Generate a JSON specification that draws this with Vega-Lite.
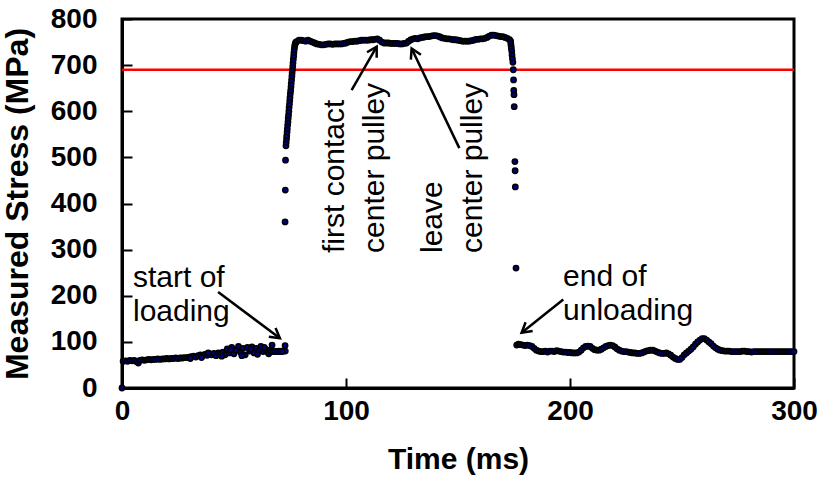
{
  "$schema": "https://vega.github.io/schema/vega-lite/v6.json",
  "width": 672,
  "height": 369,
  "autosize": {"type": "none"},
  "padding": {"left": 122, "top": 19, "right": 27, "bottom": 92},
  "background": "white",
  "config": {
    "view": {"stroke": "black", "strokeWidth": 3},
    "font": "Liberation Sans",
    "axis": {
      "grid": false,
      "labelFont": "Liberation Sans",
      "labelFontWeight": "bold",
      "labelFontSize": 28,
      "labelColor": "black",
      "labelFlush": false,
      "labelOverlap": false,
      "tickSize": -10,
      "tickWidth": 2,
      "tickColor": "black",
      "domainColor": "black",
      "domainWidth": 3,
      "titleFont": "Liberation Sans",
      "titleFontWeight": "bold",
      "titleColor": "black"
    }
  },
  "encoding": {
    "x": {
      "field": "t",
      "type": "quantitative",
      "scale": {"domain": [0, 300], "nice": false, "zero": false},
      "axis": {"values": [0, 100, 200, 300], "title": "Time (ms)", "labelPadding": 19, "titleFontSize": 30, "titlePadding": 19}
    },
    "y": {
      "field": "s",
      "type": "quantitative",
      "scale": {"domain": [0, 800], "nice": false, "zero": false},
      "axis": {"values": [0, 100, 200, 300, 400, 500, 600, 700, 800], "title": "Measured Stress (MPa)", "labelPadding": 35, "titleFontSize": 32, "titlePadding": 16}
    }
  },
  "layer": [
    {
      "data": {"values": [{"t": 0, "t2": 300, "s": 690}]},
      "mark": {"type": "rule", "color": "#ff0000", "strokeWidth": 2.5},
      "encoding": {"x2": {"field": "t2"}}
    },
    {
      "data": {"values": [
        {"t":0,"s":0},{"t":0.5,"s":58},{"t":1.5,"s":59},{"t":2.5,"s":58},{"t":3.5,"s":60},{"t":4.5,"s":59},{"t":5.5,"s":60},{"t":6.5,"s":57},{"t":7.3,"s":54},{"t":8,"s":60},{"t":9,"s":61},{"t":10,"s":60},{"t":11,"s":61},{"t":12,"s":62},{"t":13,"s":61},{"t":14,"s":62},{"t":15,"s":62},{"t":16,"s":63},{"t":17,"s":62},{"t":18,"s":63},{"t":19,"s":63},{"t":20,"s":64},{"t":21,"s":63},{"t":22,"s":64},{"t":23,"s":64},{"t":24,"s":65},{"t":25,"s":64},{"t":26,"s":65},{"t":27,"s":65},{"t":28,"s":66},{"t":29,"s":66},{"t":30,"s":67},{"t":31,"s":68},{"t":32,"s":69},{"t":33,"s":67},{"t":34,"s":70},{"t":35,"s":72},{"t":36,"s":70},{"t":37,"s":73},{"t":38,"s":71},{"t":39,"s":74},{"t":40,"s":72},{"t":41,"s":75},{"t":42,"s":70},{"t":43,"s":76},{"t":44,"s":74},{"t":45,"s":78},{"t":46,"s":72},{"t":47,"s":85},{"t":48,"s":76},{"t":49,"s":88},{"t":50,"s":74},{"t":51,"s":82},{"t":52,"s":90},{"t":53,"s":77},{"t":54,"s":86},{"t":55,"s":72},{"t":56,"s":88},{"t":57,"s":80},{"t":58,"s":89},{"t":59,"s":76},{"t":60,"s":86},{"t":61,"s":80},{"t":62,"s":90},{"t":63,"s":79},{"t":64,"s":84},{"t":65,"s":78},{"t":66,"s":82},{"t":67,"s":93},{"t":68,"s":80},{"t":69,"s":79},{"t":70,"s":80},{"t":71,"s":80},{"t":72,"s":80},{"t":72.8,"s":92},{"t":72.9,"s":80},
        {"t":30.5,"s":64},{"t":35.5,"s":66},{"t":38.5,"s":76},{"t":44.5,"s":69},{"t":48.5,"s":82},{"t":53.5,"s":70},{"t":57.5,"s":84},{"t":60.5,"s":73},{"t":63.5,"s":88},{"t":65.5,"s":74},{"t":66.5,"s":79},{"t":67.5,"s":79},{"t":68.5,"s":79},{"t":69.5,"s":79},{"t":70.5,"s":79},{"t":71.5,"s":79},
        {"t":72.8,"s":360},{"t":72.9,"s":429},{"t":73.0,"s":494},
        {"t":73.2,"s":525},{"t":73.3,"s":532},{"t":73.45,"s":540},{"t":73.55,"s":547},{"t":73.7,"s":555},{"t":73.8,"s":562},{"t":73.95,"s":570},{"t":74.1,"s":577},{"t":74.2,"s":585},{"t":74.35,"s":592},{"t":74.5,"s":600},{"t":74.6,"s":608},{"t":74.75,"s":615},{"t":74.9,"s":623},{"t":75.0,"s":630},{"t":75.15,"s":638},{"t":75.3,"s":645},{"t":75.45,"s":653},{"t":75.55,"s":660},{"t":75.7,"s":668},{"t":75.85,"s":676},{"t":75.95,"s":683},{"t":76.1,"s":690},{"t":76.25,"s":698},{"t":76.35,"s":705},{"t":76.5,"s":713},{"t":76.65,"s":720},{"t":76.75,"s":727},{"t":76.9,"s":734},{"t":77.05,"s":740},{"t":77.25,"s":745},{"t":77.45,"s":748},{"t":77.7,"s":750},
        {"t":78,"s":751},{"t":79,"s":754},{"t":80,"s":754},{"t":81,"s":753},{"t":82,"s":752},{"t":83,"s":754},{"t":84,"s":752},{"t":85,"s":750},{"t":86,"s":748},{"t":87,"s":746},{"t":88,"s":745},{"t":89,"s":744},{"t":90,"s":744},{"t":91,"s":745},{"t":92,"s":746},{"t":93,"s":746},{"t":94,"s":745},{"t":95,"s":746},{"t":96,"s":746},{"t":97,"s":746},{"t":98,"s":746},{"t":99,"s":747},{"t":100,"s":748},{"t":101,"s":750},{"t":102,"s":751},{"t":103,"s":751},{"t":104,"s":752},{"t":105,"s":752},{"t":106,"s":753},{"t":107,"s":754},{"t":108,"s":754},{"t":109,"s":754},{"t":110,"s":754},{"t":111,"s":755},{"t":112,"s":755},{"t":113,"s":756},{"t":114,"s":757},{"t":115,"s":754},{"t":116,"s":750},{"t":117,"s":748},{"t":118,"s":748},{"t":119,"s":748},{"t":120,"s":747},{"t":121,"s":747},{"t":122,"s":747},{"t":123,"s":747},{"t":124,"s":746},{"t":125,"s":746},{"t":126,"s":747},{"t":127,"s":748},{"t":128,"s":752},{"t":129,"s":755},{"t":130,"s":757},{"t":131,"s":758},{"t":132,"s":757},{"t":133,"s":759},{"t":134,"s":760},{"t":135,"s":761},{"t":136,"s":762},{"t":137,"s":762},{"t":138,"s":763},{"t":139,"s":764},{"t":140,"s":764},{"t":141,"s":763},{"t":142,"s":761},{"t":143,"s":759},{"t":144,"s":758},{"t":145,"s":757},{"t":146,"s":757},{"t":147,"s":756},{"t":148,"s":755},{"t":149,"s":755},{"t":150,"s":754},{"t":151,"s":753},{"t":152,"s":752},{"t":153,"s":752},{"t":154,"s":752},{"t":155,"s":752},{"t":156,"s":753},{"t":157,"s":754},{"t":158,"s":756},{"t":159,"s":756},{"t":160,"s":757},{"t":161,"s":757},{"t":162,"s":758},{"t":163,"s":760},{"t":164,"s":763},{"t":165,"s":765},{"t":166,"s":765},{"t":167,"s":764},{"t":168,"s":763},{"t":169,"s":762},{"t":170,"s":762},{"t":171,"s":760},{"t":172,"s":758},{"t":173,"s":755},
        {"t":173.5,"s":752},{"t":173.6,"s":746},{"t":173.7,"s":741},{"t":173.8,"s":736},{"t":174.0,"s":730},{"t":174.1,"s":722},{"t":174.3,"s":714},{"t":174.5,"s":706},{"t":174.7,"s":690},{"t":174.8,"s":668},{"t":174.9,"s":645},{"t":175.0,"s":636},{"t":175.1,"s":610},{"t":175.4,"s":491},{"t":175.5,"s":471},{"t":175.6,"s":436},{"t":175.9,"s":260},
        {"t":176.2,"s":93},{"t":177,"s":95},{"t":178,"s":94},{"t":179,"s":93},{"t":180,"s":92},{"t":181,"s":93},{"t":182,"s":92},{"t":183,"s":90},{"t":184,"s":86},{"t":185,"s":82},{"t":186,"s":80},{"t":187,"s":79},{"t":188,"s":79},{"t":189,"s":80},{"t":190,"s":78},{"t":191,"s":80},{"t":192,"s":80},{"t":193,"s":79},{"t":194,"s":81},{"t":195,"s":80},{"t":196,"s":79},{"t":197,"s":78},{"t":198,"s":78},{"t":199,"s":77},{"t":200,"s":77},{"t":201,"s":76},{"t":202,"s":76},{"t":203,"s":76},{"t":204,"s":78},{"t":205,"s":82},{"t":206,"s":87},{"t":207,"s":90},{"t":208,"s":91},{"t":209,"s":90},{"t":210,"s":86},{"t":211,"s":83},{"t":212,"s":82},{"t":213,"s":82},{"t":214,"s":84},{"t":215,"s":87},{"t":216,"s":90},{"t":217,"s":92},{"t":218,"s":93},{"t":219,"s":92},{"t":220,"s":89},{"t":221,"s":85},{"t":222,"s":82},{"t":223,"s":80},{"t":224,"s":79},{"t":225,"s":79},{"t":226,"s":78},{"t":227,"s":77},{"t":228,"s":76},{"t":229,"s":76},{"t":230,"s":75},{"t":231,"s":75},{"t":232,"s":76},{"t":233,"s":78},{"t":234,"s":80},{"t":235,"s":81},{"t":236,"s":82},{"t":237,"s":82},{"t":238,"s":80},{"t":239,"s":78},{"t":240,"s":76},{"t":241,"s":75},{"t":242,"s":75},{"t":243,"s":76},{"t":244,"s":74},{"t":245,"s":71},{"t":246,"s":67},{"t":247,"s":64},{"t":248,"s":62},{"t":249,"s":62},{"t":250,"s":66},{"t":251,"s":72},{"t":252,"s":76},{"t":253,"s":80},{"t":254,"s":84},{"t":255,"s":89},{"t":256,"s":95},{"t":257,"s":100},{"t":258,"s":104},{"t":259,"s":107},{"t":260,"s":107},{"t":261,"s":104},{"t":262,"s":100},{"t":263,"s":96},{"t":264,"s":91},{"t":265,"s":87},{"t":266,"s":84},{"t":267,"s":82},{"t":268,"s":81},{"t":269,"s":80},{"t":270,"s":80},{"t":271,"s":80},{"t":272,"s":79},{"t":273,"s":79},{"t":274,"s":79},{"t":275,"s":79},{"t":276,"s":79},{"t":277,"s":80},{"t":278,"s":80},{"t":279,"s":79},{"t":280,"s":79},{"t":281,"s":78},{"t":282,"s":79},{"t":283,"s":79},{"t":284,"s":79},{"t":285,"s":79},{"t":286,"s":79},{"t":287,"s":79},{"t":288,"s":79},{"t":289,"s":79},{"t":290,"s":79},{"t":291,"s":79},{"t":292,"s":79},{"t":293,"s":79},{"t":294,"s":79},{"t":295,"s":79},{"t":296,"s":79},{"t":297,"s":79},{"t":298,"s":79},{"t":299,"s":79},{"t":300,"s":79}
      ]},
      "mark": {"type": "circle", "size": 28, "fill": "#000080", "stroke": "black", "strokeWidth": 1.5, "opacity": 1, "fillOpacity": 1, "clip": false}
    },
    {
      "data": {"values": [
        {"t": 42.9, "s": 208, "t2": 70.5, "s2": 108},
        {"t": 197.0, "s": 192, "t2": 178.4, "s2": 120},
        {"t": 102.5, "s": 646, "t2": 113.7, "s2": 740},
        {"t": 150.6, "s": 520, "t2": 129.3, "s2": 736}
      ]},
      "mark": {"type": "rule", "color": "black", "strokeWidth": 2.5},
      "encoding": {"x2": {"field": "t2"}, "y2": {"field": "s2"}}
    },
    {
      "data": {"values": [{"t": 70.5, "s": 108}]},
      "mark": {"type": "point", "shape": "M-0.5,0.866L0,0L0.5,0.866", "filled": false, "stroke": "black", "strokeWidth": 2.5, "size": 500, "angle": 127, "opacity": 1}
    },
    {
      "data": {"values": [{"t": 178.4, "s": 120}]},
      "mark": {"type": "point", "shape": "M-0.5,0.866L0,0L0.5,0.866", "filled": false, "stroke": "black", "strokeWidth": 2.5, "size": 500, "angle": 231, "opacity": 1}
    },
    {
      "data": {"values": [{"t": 113.7, "s": 740}]},
      "mark": {"type": "point", "shape": "M-0.5,0.866L0,0L0.5,0.866", "filled": false, "stroke": "black", "strokeWidth": 2.5, "size": 500, "angle": 30, "opacity": 1}
    },
    {
      "data": {"values": [{"t": 129.3, "s": 736}]},
      "mark": {"type": "point", "shape": "M-0.5,0.866L0,0L0.5,0.866", "filled": false, "stroke": "black", "strokeWidth": 2.5, "size": 500, "angle": 334, "opacity": 1}
    },
    {
      "data": {"values": [
        {"t": 4.9, "s": 219, "label": "start of\nloading"},
        {"t": 196.9, "s": 221, "label": "end of\nunloading"}
      ]},
      "mark": {"type": "text", "align": "left", "baseline": "alphabetic", "fontSize": 30, "lineHeight": 34, "lineBreak": "\n", "font": "Liberation Sans", "color": "black"},
      "encoding": {"text": {"field": "label"}}
    },
    {
      "data": {"values": [
        {"t": 99.1, "s": 292.7, "label": "first contact\ncenter pulley"},
        {"t": 142.9, "s": 292.7, "label": "leave\ncenter pulley"}
      ]},
      "mark": {"type": "text", "align": "left", "baseline": "alphabetic", "angle": 270, "fontSize": 30, "lineHeight": 40, "lineBreak": "\n", "font": "Liberation Sans", "color": "black"},
      "encoding": {"text": {"field": "label"}}
    }
  ]
}
